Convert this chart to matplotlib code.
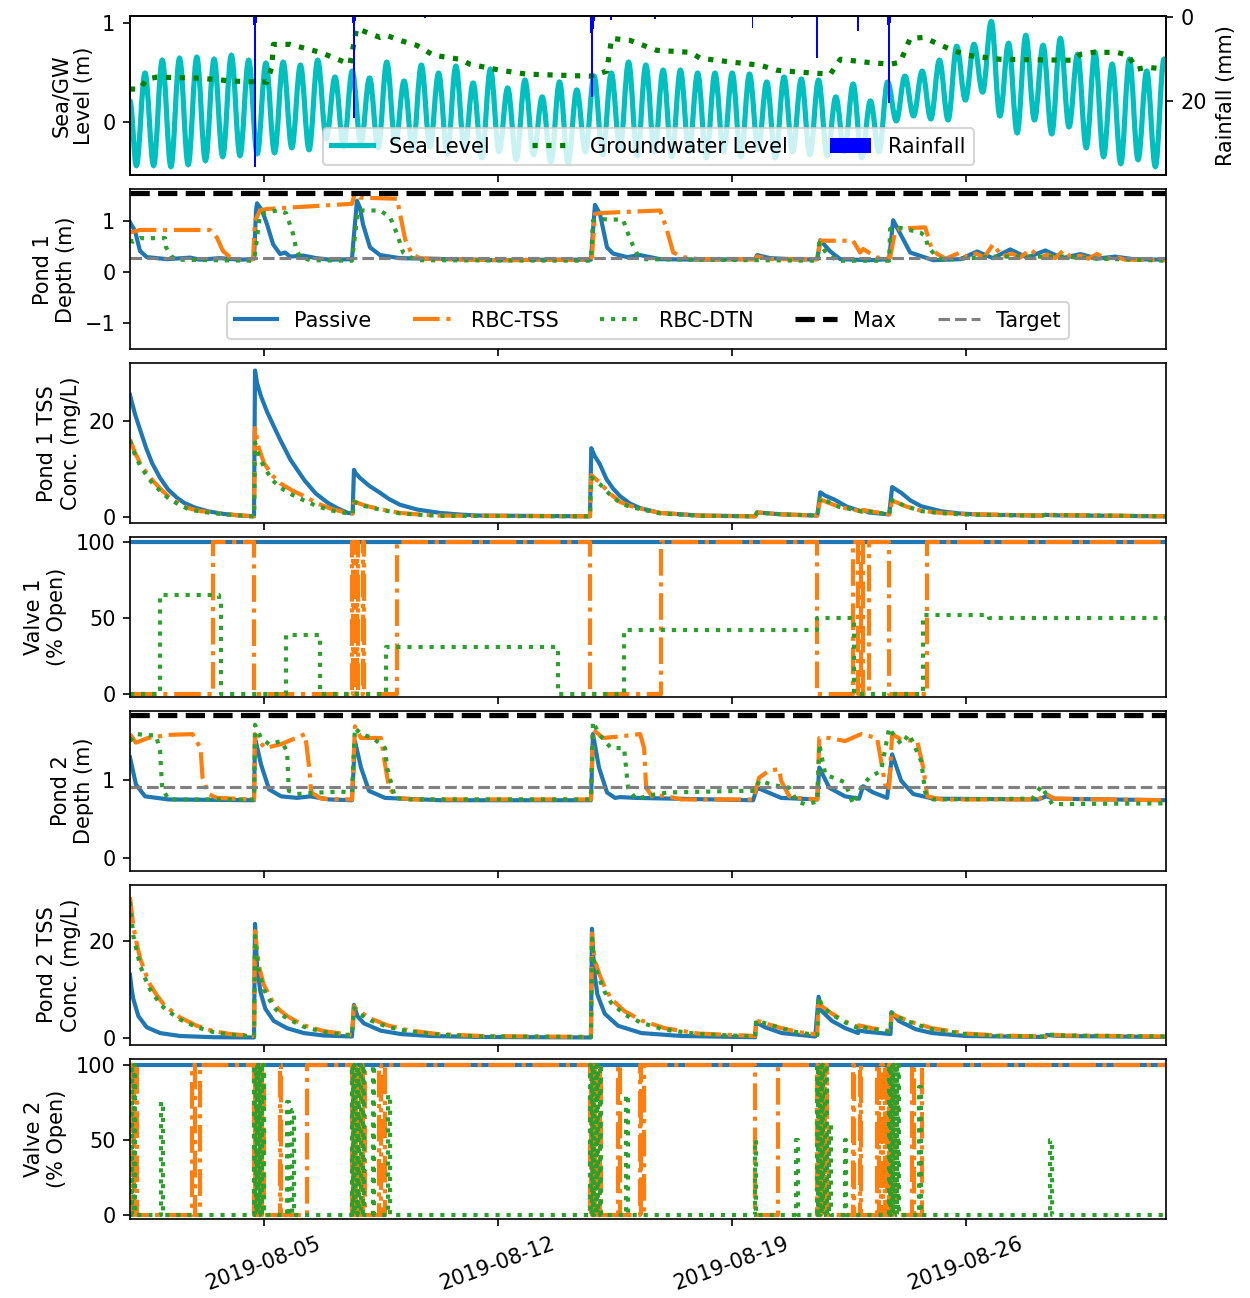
import numpy as np
import pandas as pd
import matplotlib
matplotlib.use('Agg')
import matplotlib.pyplot as plt
import matplotlib.dates as mdates
from matplotlib.path import Path
from matplotlib.patches import PathPatch
from matplotlib.lines import Line2D

start = pd.Timestamp('2019-08-01')

# ---------------- data (times in days since 2019-08-01) ----------------
# sea level: alternating low / high tide values, one every ~6.2 h
sea_first = '2019-08-01 04:34'
sea_step = '372min'
sea_low = [-0.44, -0.44, -0.45, -0.43, -0.39, -0.35, -0.34, -0.32, -0.31, -0.26,
           -0.28, -0.17, -0.25, -0.22, -0.26, -0.22, -0.28, -0.25, -0.32, -0.28,
           -0.36, -0.30, -0.38, -0.33, -0.40, -0.41, -0.30, -0.33, -0.28, -0.34,
           -0.30, -0.35, -0.30, -0.36, -0.30, -0.35, -0.28, -0.36, -0.30, -0.33,
           -0.34, -0.30, -0.36, -0.30, 0.01, 0.06, 0.03, 0.02, 0.22, 0.30,
           0.06, -0.11, 0.02, -0.12, -0.05, -0.26, -0.35, -0.42, -0.38, -0.45]
sea_high = [0.49, 0.62, 0.64, 0.65, 0.63, 0.67, 0.62, 0.59, 0.60, 0.57,
            0.62, 0.45, 0.51, 0.44, 0.60, 0.41, 0.57, 0.49, 0.56, 0.39,
            0.53, 0.34, 0.42, 0.25, 0.40, 0.32, 0.46, 0.49, 0.60, 0.57,
            0.52, 0.52, 0.49, 0.49, 0.49, 0.48, 0.40, 0.45, 0.43, 0.42,
            0.25, 0.38, 0.21, 0.40, 0.46, 0.51, 0.62, 0.76, 0.78, 1.01,
            0.79, 0.87, 0.77, 0.84, 0.68, 0.70, 0.58, 0.63, 0.51, 0.63]
sea_start, sea_end = 0.21, 0.60

gw_t = [0, 0.30, 0.50, 0.80, 2.09, 3.08, 4.10, 4.24, 4.29, 4.79, 5.69, 6.58, 6.78,
        7.48, 7.68, 8.08, 8.58, 9.08, 9.87, 10.17, 11.07, 11.87, 13.76, 14.26, 14.41,
        14.96, 15.76, 16.76, 17.06, 18.05, 18.85, 19.35, 20.05, 20.95, 21.25, 22.04,
        22.74, 23.04, 23.34, 23.74, 24.54, 25.04, 26.03, 28.22, 28.43, 28.82, 29.52,
        29.86, 30.12, 30.42, 31.0]
gw_v = [0.33, 0.33, 0.43, 0.45, 0.44, 0.41, 0.40, 0.55, 0.78, 0.78, 0.70, 0.58, 0.94,
        0.85, 0.87, 0.82, 0.77, 0.67, 0.63, 0.58, 0.52, 0.48, 0.46, 0.51, 0.84,
        0.82, 0.72, 0.70, 0.64, 0.60, 0.57, 0.52, 0.50, 0.48, 0.63, 0.60,
        0.58, 0.60, 0.84, 0.85, 0.73, 0.67, 0.63, 0.62, 0.68, 0.70, 0.70,
        0.67, 0.53, 0.55, 0.53]

rain_t = [3.70, 3.74, 3.78, 6.66, 6.70, 6.74, 8.83, 13.78, 13.82, 13.86, 13.90, 14.38,
          15.70, 18.62, 19.80, 20.55, 21.78, 22.66, 22.70, 22.74, 27.0]
rain_v = [2.0, 35.5, 1.5, 1.5, 24.0, 1.0, 0.4, 4.0, 19.0, 3.0, 1.0, 0.8,
          0.6, 2.7, 0.3, 9.7, 3.5, 2.0, 20.5, 1.5, 0.4]

# pond 1 depth (m)
p1_pas_t = [0, 0.15, 0.30, 0.50, 1.11, 1.80, 2.09, 2.69, 3.29, 3.65, 3.71, 3.77, 3.80,
            3.95, 4.10, 4.28, 4.49, 4.64, 4.79, 5.18, 5.57, 5.98, 6.64, 6.67, 6.79, 6.88,
            6.97, 7.18, 7.48, 8.08, 9.58, 11.07, 12.57, 13.79, 13.85, 13.91, 14.06, 14.27,
            14.45, 14.87, 15.26, 15.86, 17.06, 18.70, 18.76, 19.15, 20.05, 20.56, 20.65,
            20.95, 21.25, 22.14, 22.71, 22.83, 23.04, 23.34, 24.03, 24.84, 25.34, 25.82,
            26.33, 26.84, 27.38, 27.89, 28.43, 28.93, 29.47, 30.01, 31.0]
p1_pas_v = [0.97, 0.80, 0.41, 0.29, 0.25, 0.28, 0.24, 0.27, 0.24, 0.25, 0.26, 1.20, 1.34,
            1.20, 0.93, 0.54, 0.35, 0.38, 0.30, 0.32, 0.27, 0.24, 0.25, 0.50, 1.39, 1.25,
            0.93, 0.48, 0.33, 0.27, 0.25, 0.23, 0.24, 0.24, 0.80, 1.31, 1.13, 0.48,
            0.36, 0.29, 0.33, 0.25, 0.24, 0.25, 0.33, 0.27, 0.24, 0.25, 0.62,
            0.40, 0.25, 0.23, 0.25, 1.01, 0.75, 0.38, 0.23, 0.25, 0.40, 0.27,
            0.44, 0.28, 0.42, 0.27, 0.35, 0.26, 0.30, 0.25, 0.24]
p1_tss_t = [0, 0.30, 2.39, 2.60, 2.78, 2.99, 3.20, 3.68, 3.74, 3.89, 4.10, 6.64, 6.73,
            6.88, 7.99, 8.08, 8.23, 8.43, 8.70, 11.0, 13.79, 13.82, 13.91, 14.06, 15.86,
            16.04, 16.25, 16.55, 17.00, 18.70, 18.76, 19.20, 20.56, 20.65, 21.63, 21.84,
            21.93, 22.35, 22.74, 22.89, 23.04, 23.79, 23.97, 24.15, 24.40, 24.84, 25.06,
            25.31, 25.55, 25.82, 26.09, 26.39, 26.63, 26.93, 27.23, 27.44, 27.68, 27.92,
            28.19, 28.43, 28.67, 28.93, 29.20, 29.47, 29.77, 31.0]
p1_tss_v = [0.77, 0.82, 0.82, 0.67, 0.41, 0.29, 0.25, 0.25, 1.00, 1.20, 1.23, 1.33, 1.55,
            1.45, 1.43, 1.13, 0.64, 0.35, 0.26, 0.23, 0.24, 0.30, 1.13, 1.15, 1.20,
            0.87, 0.38, 0.29, 0.25, 0.25, 0.30, 0.25, 0.25, 0.61, 0.61, 0.38,
            0.45, 0.28, 0.28, 0.80, 0.85, 0.87, 0.48, 0.35, 0.26, 0.38, 0.28,
            0.36, 0.28, 0.54, 0.30, 0.36, 0.28, 0.44, 0.28, 0.34, 0.27, 0.42,
            0.27, 0.32, 0.26, 0.35, 0.25, 0.30, 0.24, 0.23]
p1_dtn_t = [0, 0.09, 0.30, 1.05, 1.08, 1.23, 1.40, 3.68, 3.74, 3.89, 4.40, 4.67, 4.88,
            4.97, 5.09, 5.40, 6.64, 6.82, 7.48, 7.78, 7.99, 8.17, 8.38, 8.60, 13.79,
            13.85, 14.06, 14.75, 14.96, 15.17, 15.38, 20.56, 20.62, 20.85, 21.16, 22.71,
            22.74, 23.04, 23.64, 23.79, 23.88, 24.12, 24.30, 24.90, 25.80, 26.80, 27.90,
            29.00, 31.0]
p1_dtn_v = [0.62, 0.59, 0.66, 0.66, 0.48, 0.31, 0.24, 0.22, 0.35, 1.13, 1.20, 1.15, 0.74,
            0.45, 0.29, 0.23, 0.22, 1.20, 1.20, 1.07, 0.74, 0.38, 0.29, 0.23, 0.22,
            1.00, 1.03, 1.02, 0.64, 0.35, 0.25, 0.22, 0.57, 0.35, 0.22, 0.22,
            0.84, 0.86, 0.77, 0.70, 0.48, 0.31, 0.24, 0.26, 0.30, 0.30, 0.30,
            0.26, 0.22]
p1_max = 1.55
p1_target = 0.275

# pond 1 TSS (mg/L)
c1_pas_t = [0, 0.15, 0.30, 0.48, 0.66, 0.90, 1.14, 1.40, 1.62, 1.95, 2.33, 2.80, 3.29,
            3.71, 3.74, 3.80, 3.92, 4.10, 4.30, 4.49, 4.80, 5.21, 5.55, 5.92, 6.20, 6.52,
            6.66, 6.70, 6.75, 6.88, 7.15, 7.48, 7.75, 8.08, 8.60, 9.28, 9.90, 10.47,
            13.76, 13.80, 13.90, 14.06, 14.25, 14.45, 14.66, 14.95, 15.26, 15.86, 17.06,
            18.70, 18.76, 19.50, 20.56, 20.65, 20.80, 21.07, 21.45, 21.90, 21.93, 22.10,
            22.71, 22.80, 23.07, 23.35, 23.67, 24.27, 24.80, 25.46, 27.26, 27.38, 27.70,
            31.0]
c1_pas_v = [25.5, 21.5, 18.3, 14.5, 11.3, 8.2, 5.8, 4.1, 3.0, 2.0, 1.25, 0.7, 0.35,
            0.2, 30.6, 28.0, 25.2, 22.0, 19.0, 16.2, 12.0, 7.8, 5.0, 3.0, 1.9, 0.9,
            0.8, 9.9, 9.2, 8.2, 6.6, 5.1, 3.8, 2.6, 1.6, 0.9, 0.55, 0.35,
            0.2, 14.4, 12.8, 11.0, 8.0, 6.0, 4.4, 2.9, 1.9, 0.9, 0.35,
            0.2, 1.0, 0.6, 0.35, 5.2, 4.5, 3.7, 2.2, 1.2, 1.5, 1.0,
            0.6, 6.3, 5.1, 3.5, 2.3, 1.25, 0.8, 0.55, 0.35, 0.5, 0.4,
            0.2]
c1_tss_t = [0, 0.15, 0.30, 0.48, 0.66, 0.90, 1.14, 1.40, 1.74, 2.10, 2.57, 3.10, 3.71,
            3.74, 3.85, 4.01, 4.25, 4.49, 4.85, 5.21, 5.60, 6.04, 6.52, 6.66, 6.70, 7.05,
            7.48, 8.08, 8.70, 9.28, 13.76, 13.80, 14.06, 14.35, 14.66, 14.95, 15.26,
            15.86, 17.06, 18.70, 18.76, 19.50, 20.56, 20.65, 21.20, 21.90, 21.93, 22.71,
            22.80, 23.20, 23.67, 24.20, 24.87, 27.26, 27.38, 31.0]
c1_tss_v = [16.2, 13.5, 11.3, 9.4, 7.8, 6.0, 4.4, 3.2, 1.9, 1.3, 0.9, 0.5, 0.2,
            18.6, 14.5, 11.3, 8.8, 7.1, 5.6, 4.4, 2.9, 1.7, 0.9, 0.8, 3.3, 2.4,
            1.7, 0.9, 0.55, 0.35, 0.2, 8.8, 7.2, 5.0, 3.2, 2.4, 1.8,
            0.9, 0.35, 0.2, 1.0, 0.6, 0.35, 3.7, 2.2, 1.2, 1.5, 0.6,
            3.5, 2.3, 1.35, 0.95, 0.7, 0.35, 0.5, 0.2]
c1_dtn_t = c1_tss_t
c1_dtn_v = [16.0, 13.0, 10.8, 8.9, 7.2, 5.5, 4.0, 2.9, 1.7, 1.2, 0.8, 0.45, 0.2,
            15.6, 12.8, 10.5, 7.8, 6.2, 4.7, 3.5, 2.3, 1.4, 0.8, 0.7, 3.2, 2.3,
            1.6, 0.8, 0.5, 0.3, 0.2, 8.3, 6.9, 4.8, 3.0, 2.2, 1.7,
            0.8, 0.3, 0.2, 1.0, 0.6, 0.35, 4.0, 2.2, 1.2, 1.4, 0.6,
            3.6, 2.3, 1.3, 0.9, 0.6, 0.3, 0.5, 0.2]

# valve 1 (% open), step changes
v1_pas_t = [0, 31.0]
v1_pas_v = [100, 100]
v1_tss_t = [0, 2.48, 3.71, 6.65, 6.68, 6.71, 6.75, 6.79, 6.83, 6.98, 7.01,
            7.99, 13.76, 15.89, 20.56, 21.63, 21.78, 21.87, 21.93, 22.11, 22.71, 23.85, 31.0]
v1_tss_v = [0, 100, 0, 100, 0, 100, 0, 100, 0, 100, 0,
            100, 0, 100, 0, 100, 0, 100, 0, 100, 0, 100, 100]
v1_dtn_t = [0, 0.90, 2.66, 2.71, 4.67, 5.69, 7.66, 12.81, 14.78, 20.56, 21.66, 23.73,
            25.70, 31.0]
v1_dtn_v = [0, 65, 62, 0, 39, 0, 31, 0, 42, 50, 0, 52, 50, 50]

# pond 2 depth (m)
p2_pas_t = [0, 0.18, 0.45, 1.15, 3.71, 3.74, 3.92, 4.16, 4.52, 5.00, 5.39, 5.95, 6.64,
            6.73, 6.91, 7.15, 7.63, 9.30, 13.79, 13.85, 14.03, 14.27, 14.51, 14.66, 15.14,
            18.64, 18.76, 19.48, 20.56, 20.62, 20.92, 21.39, 21.81, 21.93, 22.23, 22.65,
            22.80, 23.07, 23.43, 24.03, 27.17, 27.41, 27.65, 31.0]
p2_pas_v = [1.29, 0.94, 0.79, 0.75, 0.74, 1.54, 1.20, 0.88, 0.79, 0.77, 0.79, 0.75, 0.74,
            1.50, 1.16, 0.86, 0.77, 0.74, 0.74, 1.59, 1.16, 0.84, 0.77, 0.78, 0.77,
            0.74, 0.90, 0.77, 0.75, 1.16, 0.90, 0.79, 0.76, 0.92, 0.84, 0.77,
            1.33, 0.99, 0.82, 0.76, 0.75, 0.79, 0.76, 0.74]
p2_tss_t = [0, 0.18, 0.54, 1.15, 1.87, 2.11, 2.17, 2.35, 2.60, 3.71, 3.74, 3.86, 4.04,
            4.52, 5.24, 5.36, 5.42, 5.72, 6.64, 6.73, 6.91, 7.51, 7.63, 7.75, 7.99, 8.50,
            13.79, 13.85, 14.15, 14.66, 15.26, 15.38, 15.44, 15.62, 15.98, 16.50, 18.64,
            18.82, 19.12, 19.42, 19.48, 19.72, 19.96, 20.56, 20.62, 20.92, 21.39, 21.87,
            22.35, 22.59, 22.71, 22.80, 23.07, 23.55, 23.73, 23.85, 24.27, 27.17, 27.41,
            27.65, 31.0]
p2_tss_v = [1.59, 1.48, 1.54, 1.58, 1.59, 1.41, 1.03, 0.82, 0.77, 0.75, 1.59, 1.50, 1.41,
            1.46, 1.59, 1.16, 0.84, 0.76, 0.75, 1.69, 1.54, 1.54, 1.20, 0.90, 0.77, 0.75,
            0.75, 1.65, 1.54, 1.56, 1.59, 1.41, 0.90, 0.79, 0.80, 0.75, 0.75,
            1.03, 1.12, 1.14, 0.99, 0.79, 0.77, 0.75, 1.54, 1.54, 1.50, 1.59,
            1.54, 0.94, 0.90, 1.59, 1.52, 1.50, 1.16, 0.79, 0.75, 0.75, 0.82,
            0.76, 0.74]
p2_dtn_t = [0, 0.18, 0.78, 0.90, 0.96, 1.15, 3.71, 3.74, 3.92, 4.16, 4.52, 4.70, 4.75,
            5.00, 5.72, 6.31, 6.64, 6.73, 6.91, 7.27, 7.63, 7.69, 7.93, 8.30, 13.79,
            13.85, 14.03, 14.39, 14.78, 14.84, 14.90, 15.14, 15.50, 16.10, 18.27, 18.70,
            18.82, 19.30, 19.72, 19.96, 20.20, 20.56, 20.62, 20.80, 21.39, 21.63, 21.87,
            22.11, 22.47, 22.71, 22.83, 23.07, 23.31, 23.67, 23.79, 24.03, 27.00, 27.26,
            27.59, 31.0]
p2_dtn_v = [1.50, 1.59, 1.57, 1.37, 0.90, 0.75, 0.75, 1.71, 1.54, 1.46, 1.50, 1.37, 0.86,
            0.82, 0.84, 0.85, 0.84, 1.67, 1.59, 1.54, 1.41, 1.16, 0.77, 0.75, 0.75,
            1.75, 1.59, 1.41, 1.41, 1.16, 0.90, 0.75, 0.80, 0.84, 0.86, 0.86,
            0.99, 0.93, 0.90, 0.72, 0.69, 0.72, 1.46, 1.07, 0.97, 0.69, 0.90,
            1.03, 1.12, 1.67, 1.59, 1.46, 1.59, 1.24, 0.84, 0.75, 0.76, 0.92,
            0.69, 0.70]
p2_max = 1.83
p2_target = 0.915

# pond 2 TSS (mg/L)
c2_pas_t = [0, 0.05, 0.10, 0.25, 0.50, 0.90, 1.50, 2.50, 3.71, 3.74, 3.80, 3.90, 4.05,
            4.30, 4.70, 5.20, 5.80, 6.64, 6.70, 6.80, 7.00, 7.50, 8.10, 9.00, 10.50, 13.79,
            13.82, 13.88, 13.98, 14.20, 14.60, 15.30, 16.50, 18.70, 18.73, 19.00, 19.50,
            20.50, 20.60, 20.70, 21.00, 21.40, 21.78, 21.80, 22.00, 22.75, 22.78, 23.00,
            23.50, 24.00, 25.00, 27.38, 27.42, 27.80, 31.0]
c2_pas_v = [13.0, 10.0, 8.0, 4.5, 2.2, 1.0, 0.4, 0.15, 0.1, 23.5, 15.0, 9.5, 6.0,
            3.5, 2.0, 1.0, 0.5, 0.3, 6.8, 4.5, 3.0, 1.5, 0.8, 0.4, 0.2, 0.1,
            22.5, 14.0, 9.0, 5.0, 2.5, 1.0, 0.4, 0.15, 3.2, 2.2, 1.0,
            0.3, 8.5, 5.5, 3.5, 2.0, 1.0, 1.6, 1.3, 0.8, 5.3, 3.5,
            1.8, 1.0, 0.4, 0.2, 0.6, 0.4, 0.2]
c2_tss_t = [0, 0.05, 0.10, 0.20, 0.30, 0.45, 0.60, 0.80, 1.00, 1.25, 1.50, 2.00, 2.50,
            3.00, 3.71, 3.74, 3.80, 3.85, 4.00, 4.15, 4.30, 4.50, 4.70, 5.20, 5.80, 6.64,
            6.70, 6.85, 7.20, 7.70, 8.30, 9.20, 10.50, 13.79, 13.82, 13.86, 13.90, 14.05,
            14.20, 14.40, 14.80, 15.30, 16.00, 17.00, 18.70, 18.73, 19.00, 19.50, 20.00,
            20.56, 20.60, 20.70, 21.00, 21.40, 21.78, 21.80, 22.20, 22.75, 22.78, 23.00,
            23.50, 24.00, 25.00, 26.00, 27.38, 27.42, 28.00, 31.0]
c2_tss_v = [29.0, 26.0, 23.0, 19.5, 16.5, 13.5, 11.0, 8.8, 7.0, 5.5, 4.2, 2.5, 1.4,
            0.8, 0.4, 22.0, 18.0, 15.0, 11.0, 9.0, 7.0, 5.6, 4.5, 2.6, 1.4, 0.6,
            6.5, 5.5, 4.0, 2.6, 1.6, 0.8, 0.4, 0.2, 21.5, 18.5, 16.0, 13.0,
            10.5, 8.0, 5.5, 3.6, 2.0, 0.9, 0.4, 3.6, 3.0, 2.0, 1.2,
            0.7, 8.0, 6.5, 5.0, 3.4, 2.2, 2.6, 2.0, 1.4, 5.0, 4.3,
            3.0, 2.0, 0.9, 0.5, 0.3, 0.7, 0.5, 0.3]
c2_dtn_t = c2_tss_t
c2_dtn_v = [28.0, 24.5, 21.0, 18.0, 15.0, 12.3, 10.0, 8.0, 6.3, 5.0, 3.8, 2.2, 1.2,
            0.7, 0.3, 21.0, 17.0, 14.0, 10.0, 8.2, 6.3, 5.0, 4.0, 2.3, 1.2, 0.5,
            6.2, 5.0, 3.6, 2.3, 1.4, 0.7, 0.3, 0.2, 20.5, 17.5, 15.0, 12.0,
            9.5, 7.2, 4.8, 3.1, 1.7, 0.8, 0.3, 3.6, 3.0, 2.0, 1.1,
            0.6, 8.5, 6.5, 4.8, 3.2, 2.0, 2.4, 1.8, 1.3, 5.2, 4.2,
            2.8, 1.8, 0.8, 0.4, 0.3, 0.7, 0.5, 0.3]

# valve 2 (% open), step changes
v2_pas_t = [0, 31.0]
v2_pas_v = [100, 100]
v2_tss_t = [0, 0.08, 0.12, 0.20, 1.86, 1.95, 2.09,
            3.71, 3.74, 3.77, 3.80, 3.84, 3.88, 3.92, 3.96, 4.00,
            4.49, 4.53, 5.30,
            6.64, 6.67, 6.71, 6.75, 6.79, 6.84, 6.90, 6.96, 7.02,
            7.45, 7.50, 7.62,
            13.76, 13.79, 13.83, 13.87, 13.91, 13.95, 14.00, 14.05, 14.10,
            14.60, 14.65, 15.26, 15.30, 15.38,
            18.70, 19.39,
            20.56, 20.60, 20.64, 20.68, 20.73, 20.78, 20.84,
            21.63, 21.66, 21.84, 21.87,
            22.35, 22.40, 22.46, 22.52, 22.58, 22.64, 22.70, 22.76, 22.82, 22.88,
            23.40, 23.45, 23.70, 31.0]
v2_tss_v = [100, 0, 100, 0, 100, 0, 100,
            0, 100, 0, 100, 0, 100, 0, 100, 0,
            100, 0, 100,
            0, 100, 0, 100, 0, 100, 0, 100, 0,
            100, 0, 100,
            0, 100, 0, 100, 0, 100, 0, 100, 0,
            100, 0, 100, 0, 100,
            0, 100,
            0, 100, 0, 100, 0, 100, 0,
            100, 0, 100, 0,
            100, 0, 100, 0, 100, 0, 100, 0, 100, 0,
            100, 0, 100, 100]
v2_dtn_t = [0, 0.03, 0.06, 0.12, 0.15, 0.93, 0.99,
            3.71, 3.74, 3.77, 3.80, 3.83, 3.86, 3.90, 3.94, 3.98, 4.02,
            4.70, 4.76, 4.85, 4.90,
            6.64, 6.67, 6.70, 6.74, 6.78, 6.82, 6.86, 6.90, 6.96, 7.00,
            7.27, 7.31, 7.72, 7.78,
            13.76, 13.79, 13.82, 13.85, 13.89, 13.93, 13.97, 14.01, 14.06, 14.10,
            14.85, 14.91, 18.70, 18.74, 19.93, 19.97,
            20.56, 20.59, 20.63, 20.66, 20.70, 20.74, 20.80, 20.85, 20.92, 20.96,
            21.39, 21.43,
            22.71, 22.74, 22.77, 22.80, 22.83, 22.86, 22.90, 22.94, 22.98, 23.02,
            23.60, 23.66, 27.53, 27.57, 31.0]
v2_dtn_v = [0, 100, 0, 100, 0, 75, 0,
            100, 0, 100, 0, 100, 0, 100, 0, 100, 0,
            75, 0, 70, 0,
            100, 0, 100, 0, 100, 0, 100, 0, 100, 0,
            100, 0, 80, 0,
            100, 0, 100, 0, 100, 0, 100, 0, 100, 0,
            80, 0, 50, 0, 50, 0,
            100, 0, 100, 0, 100, 0, 100, 0, 60, 0,
            50, 0,
            100, 0, 100, 0, 100, 0, 100, 0, 100, 0,
            85, 0, 50, 0, 0]


def tt(days):
    return start + pd.to_timedelta(np.asarray(days, dtype=float), unit='D')


def tide_path(times, vals):
    # smooth curve through the tide extremes (flat tangent at each high/low)
    xs = mdates.date2num(pd.DatetimeIndex(times))
    verts = [(xs[0], vals[0])]
    codes = [Path.MOVETO]
    for i in range(1, len(xs)):
        dx = xs[i] - xs[i - 1]
        verts += [(xs[i - 1] + 0.364 * dx, vals[i - 1]),
                  (xs[i] - 0.364 * dx, vals[i]),
                  (xs[i], vals[i])]
        codes += [Path.CURVE4] * 3
    return Path(verts, codes)


# ---------------- figure ----------------
fig, axes = plt.subplots(7, 1, sharex=True, figsize=(1250 / 150, 1298 / 150), dpi=150)
plt.subplots_adjust(left=0.104, right=0.933, top=0.988, bottom=0.061, hspace=0.0875)

lw = 2

# panel 1: sea level, groundwater, rainfall
ax = axes[0]
sea_times = pd.date_range(sea_first, periods=2 * len(sea_high), freq=sea_step)
sea_vals = np.ravel(np.column_stack([sea_low, sea_high]))
sea_x = [start] + list(sea_times) + [start + pd.Timedelta(days=31)]
sea_y = [sea_start] + list(sea_vals) + [sea_end]
l_gw, = ax.plot(tt(gw_t), gw_v, 'g:', lw=2.5, label='Groundwater Level')
ax.add_patch(PathPatch(tide_path(sea_x, sea_y), fill=False, edgecolor='c', lw=2.5))
l_sea = Line2D([], [], color='c', lw=2.5)
ax.set_ylim(-0.54, 1.07)
ax.set_yticks([0, 1])
ax.set_ylabel('Sea/GW\nLevel (m)')
axr = ax.twinx()
b_rain = axr.bar(tt(rain_t), rain_v, width=0.05, color='b', label='Rainfall')
axr.set_ylim(37.6, -0.24)
axr.set_yticks([0, 20])
axr.set_ylabel('Rainfall (mm)')
axr.legend([l_sea, l_gw, b_rain], ['Sea Level', 'Groundwater Level', 'Rainfall'],
           loc='lower center', ncol=3)

# panel 2: pond 1 depth
ax = axes[1]
ax.plot(tt(p1_pas_t), p1_pas_v, '-', color='C0', lw=lw, label='Passive')
ax.plot(tt(p1_tss_t), p1_tss_v, '-.', color='C1', lw=lw, label='RBC-TSS')
ax.plot(tt(p1_dtn_t), p1_dtn_v, ':', color='C2', lw=lw, label='RBC-DTN')
ax.axhline(p1_max, color='k', ls='--', lw=2.5, label='Max')
ax.axhline(p1_target, color='gray', ls='--', lw=1.5, label='Target')
ax.set_ylim(-1.51, 1.61)
ax.set_yticks([-1, 0, 1])
ax.set_ylabel('Pond 1\nDepth (m)')
ax.legend(loc='lower center', ncol=5)

# panel 3: pond 1 TSS
ax = axes[2]
ax.plot(tt(c1_pas_t), c1_pas_v, '-', color='C0', lw=lw)
ax.plot(tt(c1_tss_t), c1_tss_v, '-.', color='C1', lw=lw)
ax.plot(tt(c1_dtn_t), c1_dtn_v, ':', color='C2', lw=lw)
ax.set_ylim(-1.25, 32.1)
ax.set_yticks([0, 20])
ax.set_ylabel('Pond 1 TSS\nConc. (mg/L)')

# panel 4: valve 1
ax = axes[3]
ax.plot(tt(v1_pas_t), v1_pas_v, '-', color='C0', lw=lw, drawstyle='steps-post')
ax.plot(tt(v1_tss_t), v1_tss_v, '-.', color='C1', lw=lw, drawstyle='steps-post')
ax.plot(tt(v1_dtn_t), v1_dtn_v, ':', color='C2', lw=lw, drawstyle='steps-post')
ax.set_ylim(-2, 103.3)
ax.set_yticks([0, 50, 100])
ax.set_ylabel('Valve 1\n(% Open)')

# panel 5: pond 2 depth
ax = axes[4]
ax.plot(tt(p2_pas_t), p2_pas_v, '-', color='C0', lw=lw)
ax.plot(tt(p2_tss_t), p2_tss_v, '-.', color='C1', lw=lw)
ax.plot(tt(p2_dtn_t), p2_dtn_v, ':', color='C2', lw=lw)
ax.axhline(p2_max, color='k', ls='--', lw=2.5)
ax.axhline(p2_target, color='gray', ls='--', lw=1.5)
ax.set_ylim(-0.17, 1.885)
ax.set_yticks([0, 1])
ax.set_ylabel('Pond 2\nDepth (m)')

# panel 6: pond 2 TSS
ax = axes[5]
ax.plot(tt(c2_pas_t), c2_pas_v, '-', color='C0', lw=lw)
ax.plot(tt(c2_tss_t), c2_tss_v, '-.', color='C1', lw=lw)
ax.plot(tt(c2_dtn_t), c2_dtn_v, ':', color='C2', lw=lw)
ax.set_ylim(-1.44, 31.5)
ax.set_yticks([0, 20])
ax.set_ylabel('Pond 2 TSS\nConc. (mg/L)')

# panel 7: valve 2
ax = axes[6]
ax.plot(tt(v2_pas_t), v2_pas_v, '-', color='C0', lw=lw, drawstyle='steps-post')
ax.plot(tt(v2_tss_t), v2_tss_v, '-.', color='C1', lw=lw, drawstyle='steps-post')
ax.plot(tt(v2_dtn_t), v2_dtn_v, ':', color='C2', lw=lw, drawstyle='steps-post')
ax.set_ylim(-2.7, 104)
ax.set_yticks([0, 50, 100])
ax.set_ylabel('Valve 2\n(% Open)')

ax.set_xlim(start, start + pd.Timedelta(days=31))
ax.set_xticks(pd.to_datetime(['2019-08-05', '2019-08-12', '2019-08-19', '2019-08-26']))
ax.xaxis.set_major_formatter(mdates.DateFormatter('%Y-%m-%d'))
for lab in ax.get_xticklabels():
    lab.set_rotation(20)
    lab.set_ha('center')

fig.savefig('out.png', dpi=150)
